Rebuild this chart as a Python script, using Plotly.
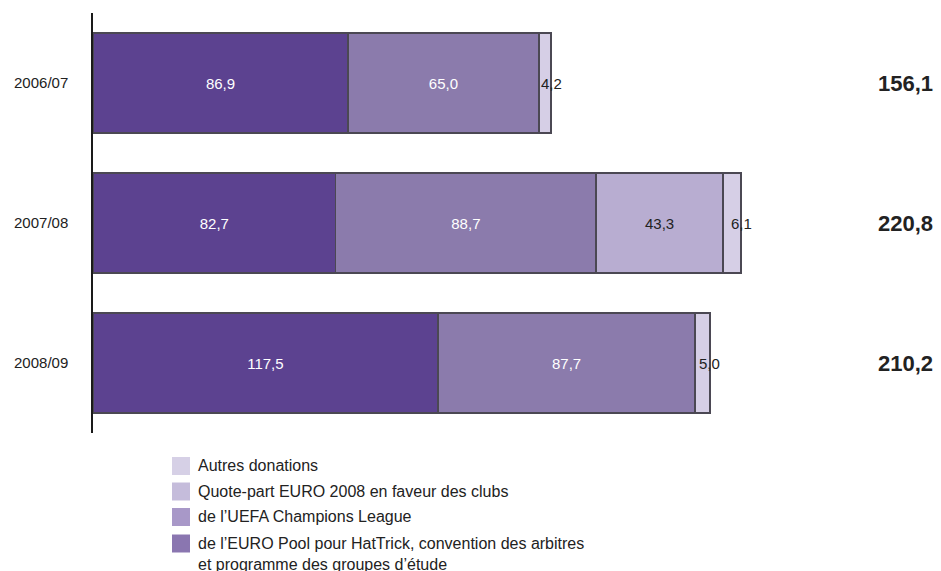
import plotly.graph_objects as go

seasons = ["2006/07", "2007/08", "2008/09"]
euro_pool = [86.9, 82.7, 117.5]
champions = [65.0, 88.7, 87.7]
quote_part = [None, 43.3, None]
autres = [4.2, 6.1, 5.0]
totals = ["156,1", "220,8", "210,2"]

names = [
    "de l’EURO Pool pour HatTrick, convention des arbitres<br>et programme des groupes d’étude",
    "de l’UEFA Champions League",
    "Quote-part EURO 2008 en faveur des clubs",
    "Autres donations",
]
series = [euro_pool, champions, quote_part, autres]
colors = ["#5c4290", "#8b7bac", "#b8add1", "#d6cfe6"]
legend_colors = ["#8a76b0", "#a898c8", "#c5bcdb", "#d6d0e6"]
text_colors = ["white", "white", "#222222", "#222222"]

FONT = "Liberation Sans, Arial, Helvetica"

def fmt(v):
    return "" if v is None else f"{v:.1f}".replace(".", ",")

fig = go.Figure()
for i, (name, vals, col, tc) in enumerate(zip(names, series, colors, text_colors)):
    show_text = i < 3
    fig.add_trace(go.Bar(
        y=seasons, x=vals, orientation="h", name=name,
        marker=dict(color=col, line=dict(color="#4b4853", width=1.5)),
        text=[fmt(v) for v in vals] if show_text else None,
        textposition="inside" if show_text else "none",
        insidetextanchor="middle",
        textfont=dict(color=tc, size=15, family=FONT),
        width=0.714,
        showlegend=False,
        hoverinfo="skip",
    ))

annotations = []
shapes = []
for s, e, c, q, a, t in zip(seasons, euro_pool, champions, quote_part, autres, totals):
    tot = e + c + (q or 0) + a
    annotations.append(dict(x=tot, y=s, xref="x", yref="y", text=fmt(a),
                            showarrow=False, xanchor="center",
                            font=dict(size=15, color="#222222", family=FONT)))
    annotations.append(dict(x=1.0, y=s, xref="paper", yref="y", text=f"<b>{t}</b>",
                            showarrow=False, xanchor="right",
                            font=dict(size=22, color="#222222", family=FONT)))

# manual legend (order as in the reference: Autres first)
leg_order = [3, 2, 1, 0]
row_px = [466, 491.5, 517, 543.5]  # centre of each swatch row in page pixels
plot_top, plot_h = 13, 420
left_px, plot_w = 93, 842
def px_x(p):
    return (p - left_px) / plot_w
def px_y(p):
    return 1 - (p - plot_top) / plot_h
for idx, yc in zip(leg_order, row_px):
    shapes.append(dict(type="rect", xref="paper", yref="paper",
                       x0=px_x(172), x1=px_x(190), y0=px_y(yc - 9), y1=px_y(yc + 9),
                       fillcolor=legend_colors[idx], line=dict(width=0)))
    annotations.append(dict(x=px_x(196), y=px_y(yc - 11), xref="paper", yref="paper",
                            text=names[idx], showarrow=False, xanchor="left", yanchor="top",
                            align="left",
                            font=dict(size=16, color="#222222", family=FONT)))

fig.update_layout(
    width=941, height=571,
    barmode="stack",
    plot_bgcolor="white", paper_bgcolor="white",
    margin=dict(l=93, r=6, t=13, b=138),
    font=dict(family=FONT, size=15, color="#222222"),
    xaxis=dict(range=[0, 286.9], visible=False, fixedrange=True),
    yaxis=dict(categoryorder="array", categoryarray=seasons, range=[2.5, -0.5],
               showline=True, linecolor="#1a1a1a", linewidth=1.5, ticks="",
               showgrid=False, zeroline=False, ticklabelstandoff=20,
               tickfont=dict(size=15, color="#222222", family=FONT)),
    showlegend=False,
    annotations=annotations,
    shapes=shapes,
)

fig.write_html("out.html", config={"displayModeBar": False},
               post_script="document.body.style.margin='0';")
